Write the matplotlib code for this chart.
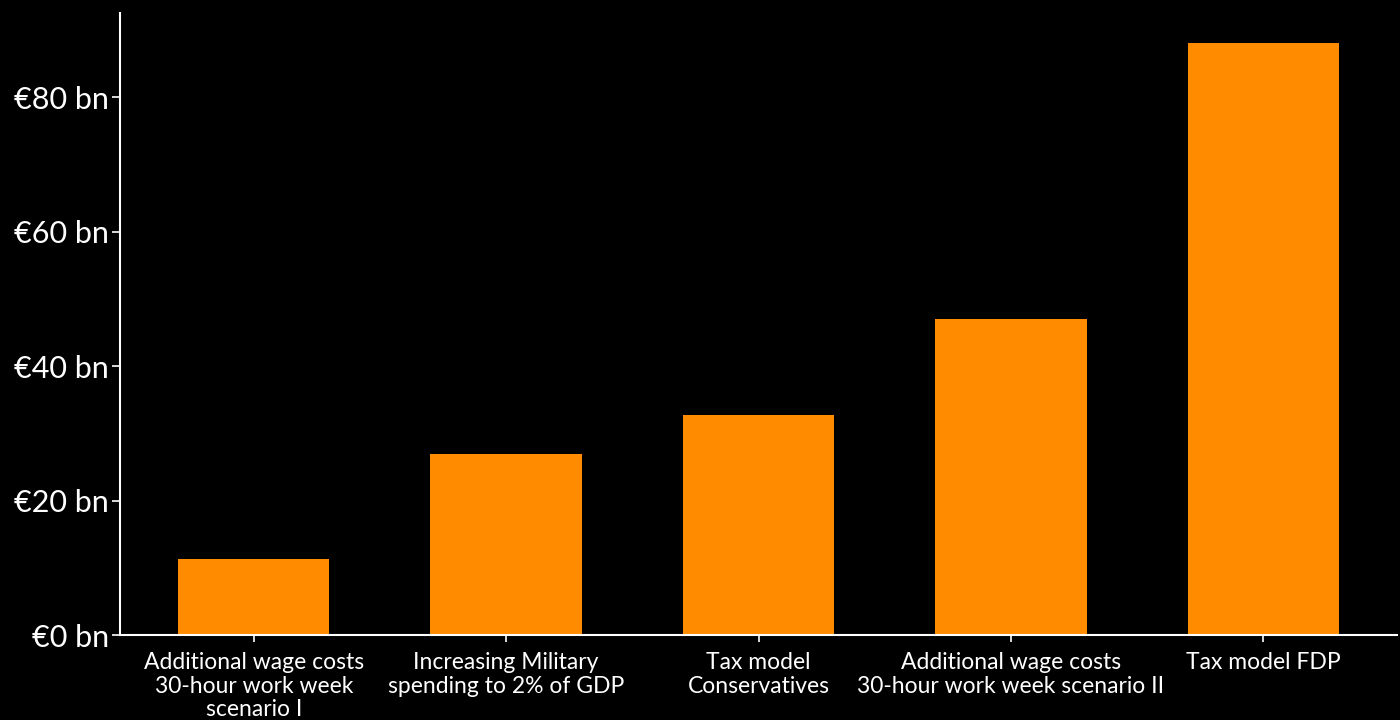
import matplotlib.pyplot as plt
from matplotlib.ticker import FuncFormatter

plt.rcParams['font.family'] = ['Lato', 'DejaVu Sans']

categories = [
    "Additional wage costs\n30-hour work week\nscenario I",
    "Increasing Military\nspending to 2% of GDP",
    "Tax model\nConservatives",
    "Additional wage costs\n30-hour work week scenario II",
    "Tax model FDP",
]
values = [11.3, 26.9, 32.7, 47.0, 88.0]
yticks = [0, 20, 40, 60, 80]

fig = plt.figure(figsize=(14, 7.2), dpi=100, facecolor="black")
ax = fig.add_axes([0.0857, 0.118, 0.9123, 0.864], facecolor="black")

x = range(len(categories))
ax.bar(x, values, width=0.6, color="#FF8C00")

ax.set_xlim(-0.53, len(categories) - 0.47)
ax.set_ylim(0, 92.5)
ax.set_yticks(yticks)
ax.yaxis.set_major_formatter(FuncFormatter(lambda v, p: f"€{v:.0f} bn"))
ax.set_xticks(list(x))
ax.set_xticklabels(categories, fontsize=16.5, color="white", linespacing=1.17)
ax.tick_params(axis="y", labelsize=22, colors="white", length=6, width=1.2, pad=2)
ax.tick_params(axis="x", colors="white", length=5, width=1.2, pad=7)

for side in ["top", "right"]:
    ax.spines[side].set_visible(False)
for side in ["left", "bottom"]:
    ax.spines[side].set_color("white")
    ax.spines[side].set_linewidth(1.5)

fig.savefig("out.png", dpi=100, facecolor="black")
